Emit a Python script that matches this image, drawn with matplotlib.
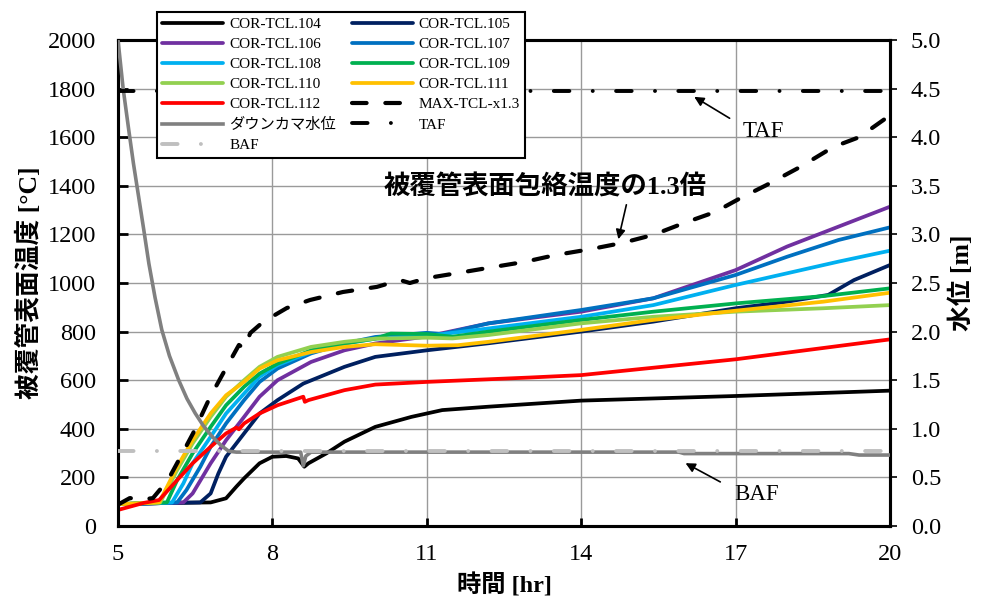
import matplotlib
matplotlib.use("Agg")
import matplotlib.pyplot as plt

plt.rcParams['font.family'] = ['Liberation Serif', 'Noto Sans CJK JP']
plt.rcParams['axes.unicode_minus'] = False

# ---------------- data ----------------
t104 = [5.0, 6.0, 6.8, 7.1, 7.3, 7.45, 7.75, 8.0, 8.27, 8.5, 8.62, 8.7, 9.05, 9.4, 10.0, 10.7, 11.3, 12.2, 14.0, 17.0, 20.0]
T104 = [90, 95, 97, 114, 162, 196, 258, 285, 288, 278, 244, 258, 299, 347, 408, 449, 477, 491, 516, 535, 557]

t105 = [5.0, 6.0, 6.6, 6.8, 6.95, 7.1, 7.45, 7.75, 8.1, 8.6, 9.4, 10.0, 11.0, 12.2, 14.0, 15.4, 17.0, 18.0, 18.8, 19.3, 20.0]
T105 = [90, 95, 97, 134, 216, 285, 381, 463, 518, 586, 655, 696, 723, 752, 800, 841, 896, 923, 951, 1012, 1074]

t106 = [5.0, 6.0, 6.27, 6.45, 6.8, 7.1, 7.45, 7.75, 8.1, 8.75, 9.4, 10.0, 11.0, 12.2, 14.0, 15.4, 17.0, 18.0, 19.0, 20.0]
T106 = [90, 95, 97, 134, 258, 353, 449, 532, 600, 675, 723, 751, 780, 834, 882, 937, 1053, 1150, 1232, 1314]

t107 = [5.0, 6.0, 6.15, 6.33, 6.6, 6.8, 7.1, 7.45, 7.75, 8.1, 8.75, 9.4, 10.0, 11.0, 11.3, 12.2, 14.0, 15.4, 17.0, 18.0, 19.0, 20.0]
T107 = [90, 95, 97, 148, 244, 326, 422, 518, 593, 648, 710, 751, 778, 795, 790, 834, 889, 937, 1033, 1108, 1177, 1229]

t108 = [5.0, 5.8, 6.05, 6.27, 6.45, 6.8, 7.1, 7.45, 7.75, 8.1, 8.75, 9.4, 10.0, 11.0, 12.2, 14.0, 15.4, 17.0, 18.0, 19.0, 20.0]
T108 = [90, 95, 97, 175, 258, 367, 463, 545, 614, 662, 716, 751, 771, 782, 813, 861, 909, 992, 1040, 1088, 1133]

t109 = [5.0, 5.7, 5.95, 6.15, 6.45, 6.8, 7.1, 7.45, 7.75, 8.1, 8.75, 9.4, 10.0, 10.3, 11.0, 11.5, 12.2, 14.0, 15.4, 17.0, 18.7, 20.0]
T109 = [90, 95, 97, 189, 299, 408, 497, 573, 627, 668, 723, 751, 771, 792, 790, 779, 800, 848, 882, 916, 946, 978]

t110 = [5.0, 5.6, 5.82, 6.15, 6.45, 6.8, 7.1, 7.45, 7.75, 8.1, 8.75, 9.4, 10.0, 11.0, 11.5, 12.2, 14.0, 15.4, 17.0, 18.7, 20.0]
T110 = [90, 95, 97, 230, 340, 449, 532, 600, 655, 696, 737, 758, 771, 775, 772, 786, 834, 861, 882, 896, 909]

t111 = [5.0, 5.6, 5.8, 6.15, 6.45, 6.8, 7.1, 7.45, 7.75, 8.1, 8.75, 9.4, 10.0, 11.0, 11.6, 12.2, 14.0, 15.4, 17.0, 18.7, 20.0]
T111 = [90, 95, 97, 244, 353, 463, 538, 593, 648, 682, 716, 737, 748, 742, 744, 758, 807, 848, 886, 923, 960]

t112 = [5.0, 5.5, 5.8, 6.15, 6.45, 6.8, 7.1, 7.3, 7.35, 7.45, 7.75, 8.1, 8.6, 8.63, 8.7, 9.4, 10.0, 11.0, 12.0, 13.0, 14.0, 17.0, 20.0]
T112 = [66, 95, 107, 189, 258, 326, 381, 405, 398, 422, 463, 497, 532, 511, 518, 559, 582, 593, 602, 611, 621, 686, 768]

t_max = [5.0, 5.23, 5.45, 5.68, 5.97, 6.15, 6.46, 6.79, 7.11, 7.35, 7.45, 7.57, 7.82, 8.28, 8.73, 9.37, 10.03, 10.48,
         10.67, 11.0, 11.6, 12.3, 12.9, 13.5, 14.2, 14.8, 15.4, 16.0, 16.6, 17.1, 17.6, 18.25, 18.9, 19.4, 20.0]
T_max = [88, 115, 108, 115, 189, 259, 382, 531, 654, 745, 731, 794, 840, 897, 930, 963, 984, 1012,
         1000, 1020, 1041, 1066, 1087, 1115, 1140, 1165, 1198, 1247, 1292, 1350, 1403, 1477, 1560, 1600, 1690]

t_dc = [5.0, 5.1, 5.21, 5.3, 5.40, 5.5, 5.60, 5.72, 5.85, 6.0, 6.18, 6.34, 6.50, 6.66, 6.83, 7.0, 7.15, 7.3,
        8.0, 8.55, 8.6, 8.65, 8.75, 9.5, 12.0, 15.9, 16.0, 19.2, 19.4, 20.0]
L_dc = [5.0, 4.5, 4.07, 3.73, 3.39, 3.05, 2.70, 2.35, 2.02, 1.75, 1.50, 1.31, 1.16, 1.03, 0.92, 0.83, 0.77, 0.76,
        0.76, 0.76, 0.62, 0.72, 0.76, 0.76, 0.76, 0.76, 0.745, 0.745, 0.73, 0.73]

t_ref = [5.0, 20.0]
L_taf = [4.48, 4.48]
L_baf = [0.77, 0.77]

tcl_labels = ['COR-TCL.104', 'COR-TCL.105', 'COR-TCL.106', 'COR-TCL.107', 'COR-TCL.108',
              'COR-TCL.109', 'COR-TCL.110', 'COR-TCL.111', 'COR-TCL.112']
tcl_colors = ['#000000', '#002060', '#7030A0', '#0070C0', '#00B0F0',
              '#00B050', '#92D050', '#FFC000', '#FF0000']
tcl_t = [t104, t105, t106, t107, t108, t109, t110, t111, t112]
tcl_T = [T104, T105, T106, T107, T108, T109, T110, T111, T112]

x_ticks = [5, 8, 11, 14, 17, 20]
y_ticks = list(range(0, 2001, 200))
y2_ticks = [i * 0.5 for i in range(11)]

# ---------------- figure ----------------
W, H = 982, 609
fig = plt.figure(figsize=(W / 100, H / 100), dpi=100)
L0, R0, T0, B0 = 118, 890, 40, 526
ax = fig.add_axes([L0 / W, 1 - B0 / H, (R0 - L0) / W, (B0 - T0) / H])
ax2 = ax.twinx()

handles = {}
for t, T, lab, c in zip(tcl_t, tcl_T, tcl_labels, tcl_colors):
    ln, = ax.plot(t, T, color=c, lw=2.7, solid_capstyle='round', solid_joinstyle='round',
                  label=lab, zorder=3)
    handles[lab] = ln

ln_max, = ax.plot(t_max, T_max, color='black', lw=3.0, linestyle=(0, (3.5, 4.5)),
                  dash_capstyle='round', label='MAX-TCL-x1.3', zorder=4)
handles['MAX-TCL-x1.3'] = ln_max

ln_dc, = ax2.plot(t_dc, L_dc, color='#808080', lw=2.6, solid_joinstyle='round',
                  label='ダウンカマ水位', zorder=3)
handles['ダウンカマ水位'] = ln_dc
ln_baf, = ax2.plot(t_ref, L_baf, color='#BFBFBF', lw=2.8, linestyle=(0, (4, 6, 0.01, 6)),
                   dash_capstyle='round', label='BAF', zorder=4)
handles['BAF'] = ln_baf
ln_taf, = ax2.plot(t_ref, L_taf, color='black', lw=2.8, linestyle=(0, (4, 6, 0.01, 6)),
                   dash_capstyle='round', label='TAF', zorder=4)
handles['TAF'] = ln_taf

# axes limits & ticks
ax.set_xlim(5, 20)
ax.set_ylim(0, 2000)
ax2.set_ylim(0, 5)
ax.set_xticks(x_ticks)
ax.set_yticks(y_ticks)
ax2.set_yticks(y2_ticks)
ax2.set_yticklabels([f'{v:.1f}' for v in y2_ticks])

ax.grid(True, color='#9A9A9A', lw=1.0, zorder=0)
ax.set_axisbelow(True)

for a in (ax, ax2):
    for s in a.spines.values():
        s.set_linewidth(2.2)
        s.set_color('black')

ax.tick_params(axis='y', direction='in', length=7, width=2, labelsize=17.5, pad=16)
ax.tick_params(axis='x', direction='in', length=6, width=2, labelsize=17.5, pad=13)
ax2.tick_params(axis='y', direction='out', length=5, width=1.2, labelsize=17.5, pad=10)

ax.set_xlabel('時間 [hr]', fontsize=17.5, fontweight='bold', labelpad=6)
ax.set_ylabel('被覆管表面温度 [°C]', fontsize=18.5, fontweight='bold', labelpad=4)
ax2.set_ylabel('水位 [m]', fontsize=18.5, fontweight='bold', rotation=90, labelpad=6)

# annotations
ax.annotate('', xy=(14.71, 1169), xytext=(14.89, 1333),
            arrowprops=dict(arrowstyle='-|>', color='black', lw=1.2, mutation_scale=14))
ax.text(13.3, 1393, '被覆管表面包絡温度の1.3倍', fontsize=19, fontweight='bold',
        ha='center', va='center', zorder=6)
ax2.annotate('', xy=(16.15, 4.43), xytext=(16.93, 4.18),
             arrowprops=dict(arrowstyle='-|>', color='black', lw=1.2, mutation_scale=14))
ax2.text(17.53, 4.06, 'TAF', fontsize=16.5, ha='center', va='center')
ax2.annotate('', xy=(15.98, 0.66), xytext=(16.75, 0.44),
             arrowprops=dict(arrowstyle='-|>', color='black', lw=1.2, mutation_scale=14))
ax2.text(17.40, 0.32, 'BAF', fontsize=16.5, ha='center', va='center')

# legend (column-major: 7 entries left, 6 right)
order = ['COR-TCL.104', 'COR-TCL.106', 'COR-TCL.108', 'COR-TCL.110', 'COR-TCL.112', 'ダウンカマ水位', 'BAF',
         'COR-TCL.105', 'COR-TCL.107', 'COR-TCL.109', 'COR-TCL.111', 'MAX-TCL-x1.3', 'TAF']
leg = fig.legend([handles[k] for k in order], order, ncol=2, loc='upper left',
                 bbox_to_anchor=(157 / W, 1 - 12 / H), bbox_transform=fig.transFigure,
                 fontsize=11, frameon=True, fancybox=False, framealpha=1, edgecolor='black',
                 handlelength=4.0, handletextpad=0.4, labelspacing=0.42, columnspacing=1.0,
                 borderpad=0.35, borderaxespad=0)
leg.get_frame().set_linewidth(1.5)
leg.set_zorder(10)

fig.savefig('out.png', dpi=100)
